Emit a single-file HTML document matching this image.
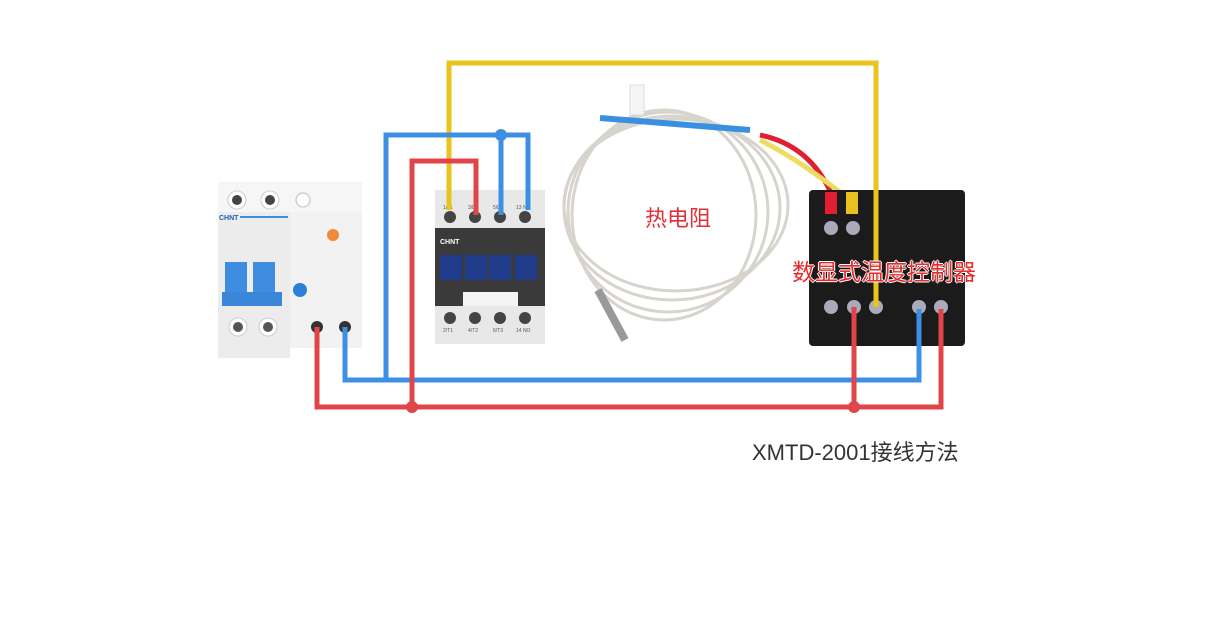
<!DOCTYPE html>
<html><head><meta charset="utf-8"><style>
body{margin:0;width:1206px;height:634px;background:#fff;position:relative;overflow:hidden;font-family:"Liberation Sans","Noto Sans CJK SC",sans-serif}
svg{position:absolute;left:0;top:0}
.t{position:absolute;white-space:nowrap}
</style></head><body>
<svg width="1206" height="634" viewBox="0 0 1206 634">
<!-- breaker -->
<rect x="218" y="182" width="72" height="176" fill="#ececec"/>
<rect x="290" y="182" width="72" height="166" fill="#f2f2f2"/>
<rect x="218" y="182" width="144" height="30" fill="#f6f6f6"/>
<circle cx="237" cy="200" r="9" fill="#fff" stroke="#ccc"/><circle cx="237" cy="200" r="5" fill="#444"/>
<circle cx="270" cy="200" r="9" fill="#fff" stroke="#ccc"/><circle cx="270" cy="200" r="5" fill="#444"/>
<circle cx="303" cy="200" r="7" fill="#fff" stroke="#bbb"/>
<text x="219" y="220" font-size="7" font-weight="bold" fill="#1a5fb4" font-family="Liberation Sans">CHNT</text>
<rect x="240" y="216" width="48" height="2" fill="#3a8fe0"/>
<rect x="225" y="262" width="22" height="42" fill="#3f8de0"/><rect x="253" y="262" width="22" height="42" fill="#3f8de0"/>
<rect x="222" y="292" width="60" height="14" fill="#3a86d8"/>
<circle cx="333" cy="235" r="6" fill="#f08a3a"/>
<circle cx="300" cy="290" r="7" fill="#2e7fd8"/>
<circle cx="238" cy="327" r="9" fill="#fff" stroke="#ccc"/><circle cx="238" cy="327" r="5" fill="#555"/>
<circle cx="268" cy="327" r="9" fill="#fff" stroke="#ccc"/><circle cx="268" cy="327" r="5" fill="#555"/>
<circle cx="317" cy="327" r="6" fill="#333"/><circle cx="345" cy="327" r="6" fill="#333"/>
<!-- contactor -->
<rect x="435" y="190" width="110" height="154" fill="#e8e8e8"/>
<rect x="435" y="228" width="110" height="78" fill="#3a3a3a"/>
<rect x="440" y="255" width="22" height="25" fill="#1f3b8a"/><rect x="465" y="255" width="22" height="25" fill="#1f3b8a"/><rect x="489" y="255" width="22" height="25" fill="#1f3b8a"/><rect x="515" y="255" width="22" height="25" fill="#1f3b8a"/>
<rect x="463" y="292" width="55" height="14" fill="#f4f4f4"/>
<text x="440" y="244" font-size="7" font-weight="bold" fill="#fff">CHNT</text>
<g fill="#444"><circle cx="450" cy="217" r="6"/><circle cx="475" cy="217" r="6"/><circle cx="500" cy="217" r="6"/><circle cx="525" cy="217" r="6"/>
<circle cx="450" cy="318" r="6"/><circle cx="475" cy="318" r="6"/><circle cx="500" cy="318" r="6"/><circle cx="525" cy="318" r="6"/></g>
<g font-size="5" fill="#555"><text x="443" y="209">1/L1</text><text x="468" y="209">3/L2</text><text x="493" y="209">5/L3</text><text x="516" y="209">13 NO</text>
<text x="443" y="332">2/T1</text><text x="468" y="332">4/T2</text><text x="493" y="332">6/T3</text><text x="516" y="332">14 NO</text></g>
<!-- sensor coil -->
<g fill="none" stroke="#d6d4cc" stroke-width="3">
<ellipse cx="668" cy="212" rx="100" ry="100"/><ellipse cx="672" cy="208" rx="108" ry="92"/><ellipse cx="664" cy="215" rx="92" ry="105"/><ellipse cx="676" cy="205" rx="112" ry="86"/>
</g>
<path d="M600 118 L750 130" stroke="#3a90e0" stroke-width="6"/>
<path d="M760 135 Q810 145 832 195" stroke="#e02030" stroke-width="5" fill="none"/>
<path d="M760 140 Q800 160 850 200" stroke="#eedc60" stroke-width="5" fill="none"/>
<rect x="630" y="85" width="14" height="30" fill="#f5f5f5" stroke="#ddd"/>
<path d="M598 290 L625 340" stroke="#999" stroke-width="8"/>
<!-- controller -->
<rect x="809" y="190" width="156" height="156" rx="4" fill="#1b1b1b"/>
<rect x="825" y="192" width="12" height="22" fill="#e02030"/><rect x="846" y="192" width="12" height="22" fill="#e8c020"/>
<g fill="#aab"><circle cx="831" cy="228" r="7"/><circle cx="853" cy="228" r="7"/>
<circle cx="831" cy="307" r="7"/><circle cx="854" cy="307" r="7"/><circle cx="876" cy="307" r="7"/><circle cx="919" cy="307" r="7"/><circle cx="941" cy="307" r="7"/></g>
<!-- wires -->
<g fill="none" stroke-width="5" stroke-linejoin="miter">
<path d="M449 210 V63 H876 V307" stroke="#eac31c"/>
<path d="M386 380 V135 H528 V210" stroke="#3d8fe3"/>
<path d="M501 135 V215" stroke="#3d8fe3"/>
<path d="M345 327 V380 H919 V309" stroke="#3d8fe3"/>
<path d="M317 327 V407 H941 V309" stroke="#e0454a"/>
<path d="M412 407 V161 H476 V215" stroke="#e0454a"/>
<path d="M854 407 V307" stroke="#e0454a"/>
</g>
<circle cx="501" cy="135" r="6" fill="#3d8fe3"/>
<circle cx="412" cy="407" r="6" fill="#e0454a"/>
<circle cx="854" cy="407" r="6" fill="#e0454a"/>
</svg>
<div class="t" style="left:645px;top:201px;font-size:22px;color:#e03038">热电阻</div>
<div class="t" style="left:792px;top:253px;font-size:23px;color:#e82a2a;text-shadow:-1px 0 #fff,1px 0 #fff,0 -1px #fff,0 1px #fff">数显式温度控制器</div>
<div class="t" style="left:752px;top:435px;font-size:22px;color:#333">XMTD-2001接线方法</div>
</body></html>
